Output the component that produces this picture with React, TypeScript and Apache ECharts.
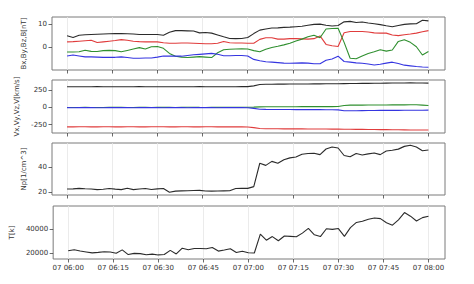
import React, { useEffect, useRef } from "react";
import * as echarts from "echarts";

// Sample times, minutes after 07 06:00 (2-minute cadence)
const sampleMinutes: number[] = Array.from({ length: 61 }, (_, i) => i * 2);
const tickMinutes = [0, 15, 30, 45, 60, 75, 90, 105, 120];

// Magnetic field [nT]
const bx = [2.2, 2.3, 2.5, 2.7, 2.9, 1.9, 2.2, 2.5, 2.8, 3.2, 2.9, 2.5, 2.3, 2.2, 2.2, 2.2, 1.8, 1.6, 1.6, 1.7, 1.7, 1.6, 1.5, 1.4, 1.4, 1.6, 2.4, 1.8, 1.7, 1.7, 1.6, 1.6, 3.3, 4.0, 4.0, 3.4, 3.4, 3.6, 3.6, 3.5, 3.4, 3.6, 4.8, 1.1, 0.5, 0.2, 6.2, 6.7, 6.7, 6.7, 6.5, 6.1, 6.0, 6.0, 5.2, 4.9, 5.3, 5.6, 6.0, 6.6, 7.1];
const by = [-2.2, -2.2, -2.1, -1.4, -1.9, -2.0, -1.6, -1.5, -1.6, -2.1, -1.5, -0.9, -0.3, -0.9, 0.1, 0.2, -0.6, -2.8, -4.0, -4.4, -4.6, -4.4, -4.2, -4.4, -4.6, -2.5, -1.2, -1.0, -0.9, -0.8, -0.9, -1.6, -2.1, -1.0, -0.2, 0.3, 0.9, 1.6, 2.6, 3.4, 4.4, 5.1, 4.0, 7.8, 8.0, 8.1, 2.0, -4.9, -5.1, -3.9, -2.8, -2.1, -1.2, -1.8, -1.3, 2.4, 3.1, 2.0, 0.1, -3.5, -2.0];
const bz = [-3.9, -3.5, -3.9, -4.3, -4.3, -4.4, -4.5, -4.5, -4.5, -4.3, -4.6, -4.9, -4.9, -4.8, -4.8, -4.4, -3.9, -4.0, -4.0, -4.0, -3.7, -3.4, -3.2, -3.0, -2.8, -3.2, -3.8, -3.8, -3.7, -3.7, -3.9, -5.4, -6.0, -6.4, -6.6, -6.8, -7.0, -7.1, -7.0, -6.9, -7.0, -7.3, -7.3, -5.8, -5.2, -4.0, -6.3, -6.6, -6.9, -7.1, -7.4, -7.8, -7.5, -7.0, -6.6, -7.2, -7.9, -8.2, -8.5, -8.7, -8.8];
const bt = [4.9, 4.1, 5.1, 5.3, 5.4, 5.5, 5.6, 5.7, 5.8, 5.8, 5.7, 5.6, 5.4, 5.4, 5.4, 5.4, 5.1, 6.4, 7.1, 7.1, 7.0, 6.9, 6.1, 6.3, 6.0, 5.2, 4.4, 3.7, 3.6, 3.7, 4.1, 5.8, 7.3, 7.8, 8.2, 8.3, 8.5, 8.6, 8.8, 9.0, 9.4, 9.8, 9.9, 9.4, 9.1, 9.3, 10.9, 11.1, 10.6, 10.8, 10.4, 10.1, 9.7, 9.2, 8.8, 9.3, 9.8, 10.0, 10.1, 11.6, 11.3];

// Velocity [km/s]
const vx = [-281, -281, -280, -280, -281, -281, -280, -280, -281, -281, -280, -280, -281, -281, -280, -280, -280, -281, -281, -280, -280, -281, -281, -280, -280, -281, -281, -280, -281, -282, -284, -292, -306, -308, -309, -309, -310, -310, -311, -311, -312, -312, -313, -313, -314, -314, -315, -316, -317, -318, -319, -320, -321, -322, -323, -324, -325, -326, -327, -327, -326];
const vy = [-1, -2, -1, 0, -1, -2, -1, 0, 1, 0, -1, -1, 0, 0, -1, 0, 1, 0, -1, 0, 1, 2, 0, -1, 0, 1, 0, 0, 1, 1, 2, 4, 7, 8, 8, 8, 9, 9, 9, 10, 10, 10, 10, 11, 11, 12, 28, 32, 33, 33, 34, 34, 35, 35, 36, 36, 36, 37, 37, 33, 26];
const vz = [-4, -5, -4, -3, -4, -5, -5, -4, -3, -4, -4, -5, -4, -3, -4, -4, -5, -4, -3, -4, -5, -4, -4, -3, -4, -5, -4, -3, -4, -4, -5, -15, -27, -29, -30, -30, -31, -31, -32, -32, -33, -33, -33, -34, -34, -36, -48, -49, -48, -47, -46, -45, -44, -44, -43, -43, -42, -42, -41, -41, -40];
const vt = [298, 298, 297, 298, 298, 299, 298, 298, 297, 298, 298, 298, 299, 298, 298, 298, 298, 298, 297, 298, 298, 298, 299, 298, 298, 298, 298, 298, 298, 299, 300, 310, 330, 333, 334, 335, 336, 337, 337, 338, 338, 339, 339, 340, 340, 341, 343, 344, 345, 346, 347, 348, 349, 350, 351, 352, 352, 353, 352, 351, 350];

// Proton density [1/cm^3]
const np = [22.4, 22.5, 22.9, 22.6, 22.4, 21.9, 22.2, 22.8, 22.3, 21.9, 23.0, 21.9, 22.4, 22.8, 22.0, 22.5, 22.8, 19.8, 20.7, 20.9, 21.0, 21.2, 21.3, 20.8, 20.7, 20.8, 20.9, 21.0, 22.8, 22.9, 22.9, 24.3, 43.0, 41.3, 44.5, 43.0, 45.8, 47.3, 48.0, 50.2, 50.8, 51.0, 49.9, 54.4, 56.0, 55.2, 49.2, 48.2, 50.8, 49.6, 50.5, 51.2, 49.9, 52.8, 53.4, 54.3, 56.5, 57.4, 56.0, 53.0, 53.6];

// Temperature [K]
const temp = [21700, 22500, 21500, 20700, 19900, 20300, 20900, 20700, 19600, 22400, 18500, 19500, 19300, 18400, 18900, 18200, 18500, 22000, 19000, 23800, 22500, 23600, 23600, 23300, 24400, 21400, 22300, 23300, 20200, 21300, 20000, 19800, 35500, 30500, 33500, 30000, 34000, 33700, 33400, 36400, 40300, 35000, 33500, 40000, 39500, 40200, 33700, 41000, 45300, 46300, 48000, 49000, 48500, 45000, 43000, 47500, 53500, 50500, 46500, 49300, 50500];

const panelNames = ["Bx,By,Bz,B[nT]", "Vx,Vy,Vz,V[km/s]", "Np[1/cm^3]", "T[k]"];
const yTicks = [[0, 10], [-250, 0, 250], [20, 40], [20000, 40000]];
const yRanges = [[-10, 13], [-370, 395], [17.6, 59.2], [14800, 59000]];

const RED = "#e03c3c";
const GREEN = "#2f8f2f";
const BLUE = "#3535e0";
const BLACK = "#2b2b2b";

function fmtTime(m: number) {
  const total = 6 * 60 + m;
  const h = Math.floor(total / 60);
  const mm = total % 60;
  return "07 " + String(h).padStart(2, "0") + ":" + String(mm).padStart(2, "0");
}

export default function App() {
  const ref = useRef<HTMLDivElement>(null);
  useEffect(() => {
    if (!ref.current) return;
    const chart = echarts.init(ref.current, null, { renderer: "svg" });
    const font = "DejaVu Sans";
    const tops = [17, 80, 143, 206];
    const heights = [53, 53, 52, 53];
    const nameGaps = [22, 27, 22, 35];
    const grids = tops.map((t, i) => ({
      left: 52,
      top: t,
      width: 393,
      height: heights[i],
      show: true,
      borderColor: "#7a7a7a",
      borderWidth: 1,
      backgroundColor: "transparent",
    }));
    const xAxes = tops.map((_, i) => ({
      type: "value",
      gridIndex: i,
      min: -5,
      max: 125.5,
      position: "bottom",
      axisLine: { show: false, onZero: false },
      axisTick: { show: true, customValues: tickMinutes, length: 3.5, lineStyle: { color: "#444", width: 0.8 } },
      axisLabel: {
        show: i === 3,
        customValues: tickMinutes,
        formatter: (v: number) => fmtTime(v),
        fontFamily: font,
        fontSize: 7,
        color: "#333",
        margin: 5,
      },
      splitLine: { show: true, lineStyle: { color: "#e6e6e6", width: 0.8 } },
    }));
    const yAxes = tops.map((_, i) => ({
      type: "value",
      gridIndex: i,
      min: yRanges[i][0],
      max: yRanges[i][1],
      position: "left",
      name: panelNames[i],
      nameLocation: "middle",
      nameGap: nameGaps[i],
      nameRotate: 90,
      nameTextStyle: { fontFamily: font, fontSize: 7, color: "#333" },
      axisLine: { show: false, onZero: false },
      axisTick: { show: true, customValues: yTicks[i], length: 3.5, lineStyle: { color: "#444", width: 0.8 } },
      axisLabel: {
        customValues: yTicks[i],
        formatter: (v: number) => String(v),
        fontFamily: font,
        fontSize: 7,
        color: "#333",
        margin: 5,
      },
      splitLine: { show: false },
    }));
    const mk = (arr: number[], gi: number, color: string) => ({
      type: "line",
      xAxisIndex: gi,
      yAxisIndex: gi,
      data: sampleMinutes.map((t, k) => [t, arr[k]]),
      showSymbol: false,
      symbol: "none",
      lineStyle: { color, width: 1.1 },
      itemStyle: { color },
    });
    chart.setOption({
      animation: false,
      grid: grids,
      xAxis: xAxes,
      yAxis: yAxes,
      series: [
        mk(bx, 0, RED),
        mk(by, 0, GREEN),
        mk(bz, 0, BLUE),
        mk(bt, 0, BLACK),
        mk(vx, 1, RED),
        mk(vy, 1, GREEN),
        mk(vz, 1, BLUE),
        mk(vt, 1, BLACK),
        mk(np, 2, BLACK),
        mk(temp, 3, BLACK),
      ],
    });
    return () => chart.dispose();
  }, []);
  return (
    <div
      ref={ref}
      style={{ position: "fixed", left: 0, top: 0, width: 474, height: 284, background: "#fff" }}
    />
  );
}
